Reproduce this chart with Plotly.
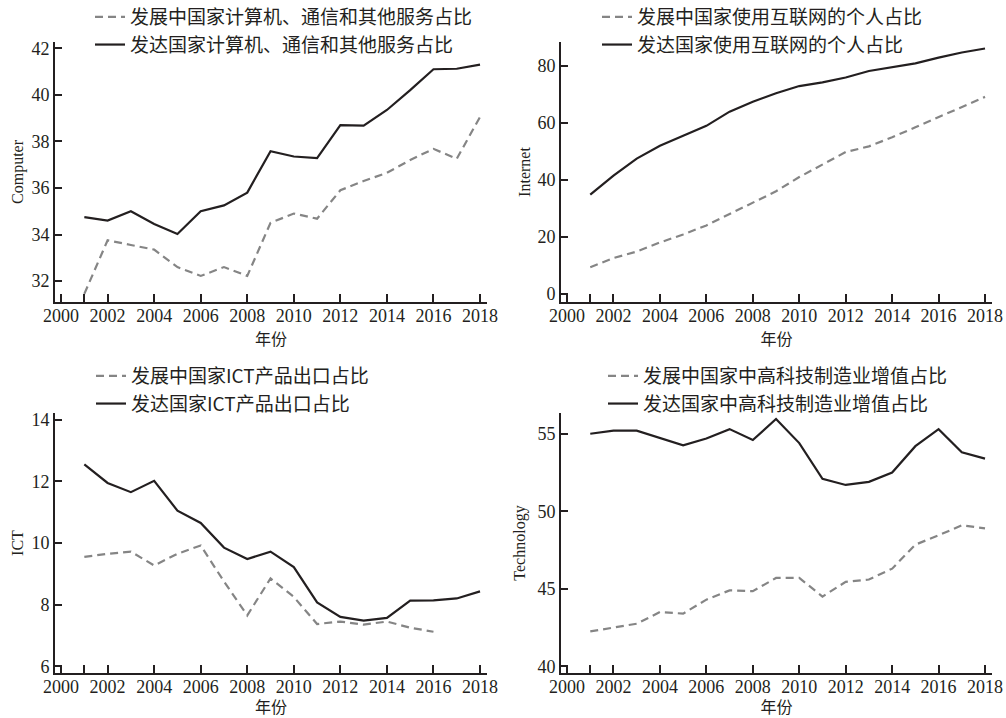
import plotly.graph_objects as go

years = list(range(2001, 2019))

computer_dev = [31.45, 33.75, 33.55, 33.35, 32.6, 32.22, 32.6, 32.22, 34.5, 34.9, 34.68, 35.9, 36.3, 36.65, 37.2, 37.68, 37.25, 39.05]
computer_adv = [34.75, 34.6, 35.0, 34.45, 34.02, 35.0, 35.25, 35.8, 37.58, 37.35, 37.28, 38.7, 38.68, 39.35, 40.2, 41.1, 41.12, 41.3]

internet_dev = [9.3, 12.5, 14.8, 18.0, 20.8, 24.0, 28.0, 32.0, 36.0, 41.0, 45.5, 49.8, 51.8, 55.0, 58.5, 62.0, 65.5, 69.2]
internet_adv = [34.8, 41.5, 47.5, 52.0, 55.5, 59.0, 64.0, 67.5, 70.5, 73.0, 74.3, 76.0, 78.3, 79.7, 81.0, 83.0, 84.8, 86.2]

ict_years_dev = list(range(2001, 2017))
ict_dev = [9.55, 9.65, 9.72, 9.27, 9.65, 9.92, 8.75, 7.65, 8.85, 8.25, 7.37, 7.45, 7.35, 7.45, 7.25, 7.12]
ict_adv = [12.55, 11.95, 11.65, 12.02, 11.05, 10.65, 9.85, 9.48, 9.72, 9.22, 8.07, 7.6, 7.48, 7.57, 8.13, 8.14, 8.2, 8.43]

tech_dev = [42.25, 42.5, 42.75, 43.5, 43.4, 44.3, 44.9, 44.85, 45.7, 45.7, 44.5, 45.45, 45.6, 46.3, 47.85, 48.45, 49.1, 48.9]
tech_adv = [55.0, 55.2, 55.2, 54.75, 54.25, 54.7, 55.3, 54.6, 55.95, 54.4, 52.1, 51.7, 51.9, 52.5, 54.2, 55.3, 53.8, 53.4]

names = [
    ("发展中国家计算机、通信和其他服务占比", "发达国家计算机、通信和其他服务占比"),
    ("发展中国家使用互联网的个人占比", "发达国家使用互联网的个人占比"),
    ("发展中国家ICT产品出口占比", "发达国家ICT产品出口占比"),
    ("发展中国家中高科技制造业增值占比", "发达国家中高科技制造业增值占比"),
]
y_titles = ["Computer", "Internet", "ICT", "Technology"]
x_tickvals = [2000, 2001] + list(range(2002, 2019, 2))
x_ticktext = ["2000", ""] + [str(v) for v in range(2002, 2019, 2)]
y_ticks = [list(range(32, 43, 2)), list(range(0, 81, 20)), list(range(6, 15, 2)), [40, 45, 50, 55]]
y_ranges = [[31.1, 42.27], [-2.94, 88.5], [5.78, 14.22], [39.57, 56.34]]

W, H = 1006, 718
FONT = "Liberation Serif"
CJK = "Noto Sans CJK SC"
TXT = "#231f20"
GREY = "#858585"

# pixel boxes (left, right, top, bottom)
boxes = [(55, 487, 42, 302), (561, 992, 42, 302), (55, 487, 413, 673), (561, 992, 413, 673)]
legend_pos = [(90, -2), (597, -2), (91, 357), (603, 357)]
ytitle_standoff = [4, 3, 4, 8]

series = [
    (years, computer_dev, years, computer_adv),
    (years, internet_dev, years, internet_adv),
    (ict_years_dev, ict_dev, years, ict_adv),
    (years, tech_dev, years, tech_adv),
]

fig = go.Figure()
for i in range(4):
    xa = "x" if i == 0 else f"x{i+1}"
    ya = "y" if i == 0 else f"y{i+1}"
    lg = "legend" if i == 0 else f"legend{i+1}"
    xd, yd, xa_, ya_ = series[i]
    fig.add_trace(go.Scatter(x=xd, y=yd, mode="lines", name=names[i][0], xaxis=xa, yaxis=ya,
                             line=dict(color=GREY, width=2.2, dash="8px,5px"), legend=lg))
    fig.add_trace(go.Scatter(x=xa_, y=ya_, mode="lines", name=names[i][1], xaxis=xa, yaxis=ya,
                             line=dict(color=TXT, width=2.2), legend=lg))

layout = dict(width=W, height=H, margin=dict(l=0, r=0, t=0, b=0, autoexpand=False),
              paper_bgcolor="white", plot_bgcolor="white", font=dict(family=FONT, color=TXT, size=17))
for i in range(4):
    l, r, t, b = boxes[i]
    xk = "xaxis" if i == 0 else f"xaxis{i+1}"
    yk = "yaxis" if i == 0 else f"yaxis{i+1}"
    xa = "x" if i == 0 else f"x{i+1}"
    ya = "y" if i == 0 else f"y{i+1}"
    layout[xk] = dict(domain=[l / W, r / W], anchor=ya, range=[1999.74, 2018.3], automargin=False,
                      tickvals=x_tickvals, ticktext=x_ticktext, ticks="inside", ticklen=8, tickwidth=2,
                      tickcolor=TXT, showline=True, linecolor=TXT, linewidth=2, showgrid=False, zeroline=False,
                      tickfont=dict(size=18, family=FONT, color=TXT), ticklabelstandoff=-4,
                      title=dict(text="年份", font=dict(size=16, family=CJK, color=TXT), standoff=3))
    layout[yk] = dict(domain=[1 - b / H, 1 - t / H], anchor=xa, range=y_ranges[i], tickvals=y_ticks[i],
                      automargin=False,
                      ticks="inside", ticklen=7, tickwidth=2, tickcolor=TXT, showline=True, linecolor=TXT,
                      linewidth=2, showgrid=False, zeroline=False,
                      tickfont=dict(size=18, family=FONT, color=TXT),
                      title=dict(text=y_titles[i], font=dict(size=16, family=FONT, color=TXT),
                                 standoff=ytitle_standoff[i]))
    lx, ly = legend_pos[i]
    lk = "legend" if i == 0 else f"legend{i+1}"
    layout[lk] = dict(x=lx / W, y=1 - ly / H, xanchor="left", yanchor="top", bgcolor="rgba(0,0,0,0)",
                      font=dict(size=19, family=CJK, color=TXT),
                      tracegroupgap=0, borderwidth=0)

fig.update_layout(**layout)
fig.update_layout(showlegend=True)
fig.write_html("out.html", config={"displayModeBar": False},
               post_script="document.body.style.margin='0';document.body.style.overflow='hidden';")
